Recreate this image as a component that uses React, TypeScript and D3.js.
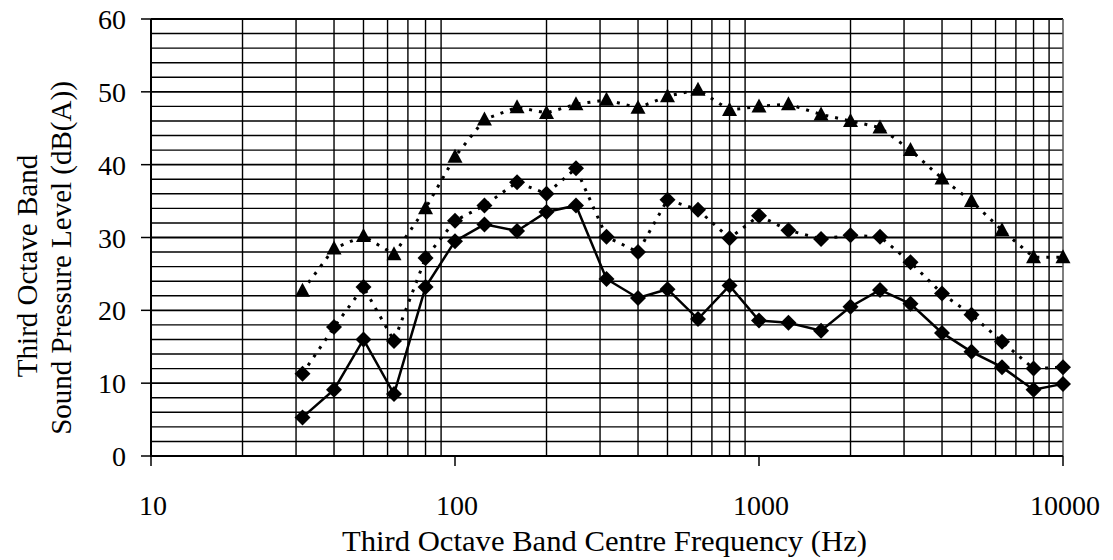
import React from "react";
import * as d3 from "d3";

const freqs = [31.5, 40, 50, 63, 80, 100, 125, 160, 200, 250, 315, 400, 500, 630, 800, 1000, 1250, 1600, 2000, 2500, 3150, 4000, 5000, 6300, 8000, 10000];
const upperSeries = [22.7, 28.5, 30.2, 27.7, 34.0, 41.1, 46.2, 47.9, 47.1, 48.3, 48.9, 47.8, 49.4, 50.3, 47.5, 48.0, 48.3, 46.9, 46.0, 45.1, 42.0, 38.1, 35.0, 31.0, 27.3, 27.3];
const middleSeries = [11.3, 17.7, 23.2, 15.8, 27.2, 32.3, 34.4, 37.6, 36.0, 39.5, 30.1, 28.0, 35.2, 33.8, 29.9, 33.0, 31.0, 29.8, 30.3, 30.1, 26.6, 22.3, 19.4, 15.7, 12.0, 12.2];
const lowerSeries = [5.3, 9.1, 16.0, 8.5, 23.2, 29.5, 31.8, 30.9, 33.5, 34.4, 24.3, 21.7, 22.9, 18.8, 23.4, 18.6, 18.3, 17.2, 20.5, 22.8, 20.9, 16.9, 14.3, 12.2, 9.1, 9.9];
const xTickLabels = [10, 100, 1000, 10000];
const yTickLabels = [0, 10, 20, 30, 40, 50, 60];

const W = 1113;
const H = 560;
const L = 151;
const R = 1063;
const T = 19;
const B = 456;

export default function App() {
  const x = d3.scaleLog().domain([10, 10000]).range([L, R]);
  const y = d3.scaleLinear().domain([0, 60]).range([B, T]);

  const minorX: number[] = [];
  for (let dec = 10; dec < 10000; dec *= 10) {
    for (let m = 2; m <= 9; m++) minorX.push(dec * m);
  }
  const hLines = d3.range(2, 60, 2);

  const line = d3
    .line<number>()
    .x((_, i) => x(freqs[i]))
    .y((v) => y(v));

  const font = "'Liberation Serif', 'Times New Roman', serif";
  const tri = (cx: number, cy: number) =>
    `M${cx},${cy - 8} L${cx + 7.5},${cy + 6} L${cx - 7.5},${cy + 6} Z`;
  const dia = (cx: number, cy: number) =>
    `M${cx},${cy - 8} L${cx + 8},${cy} L${cx},${cy + 8} L${cx - 8},${cy} Z`;

  return (
    <svg width={W} height={H} style={{ display: "block", position: "absolute", left: 0, top: 0 }}>
      <rect x={0} y={0} width={W} height={H} fill="#fff" />
      {hLines.map((v) => (
        <line key={"h" + v} x1={L} x2={R} y1={y(v)} y2={y(v)} stroke="#000" strokeWidth={v % 10 === 0 ? 1.8 : 1.4} />
      ))}
      {minorX.map((f) => (
        <line key={"v" + f} x1={x(f)} x2={x(f)} y1={T} y2={B} stroke="#000" strokeWidth={f === 100 || f === 1000 ? 1.8 : 1.4} />
      ))}
      <line x1={L} x2={R} y1={T} y2={T} stroke="#000" strokeWidth={2} />
      <line x1={R} x2={R} y1={T} y2={B} stroke="#555" strokeWidth={1.5} />
      <line x1={L} x2={L} y1={T} y2={B + 1} stroke="#000" strokeWidth={2} />
      <line x1={L - 1} x2={R} y1={B} y2={B} stroke="#000" strokeWidth={2} />
      {yTickLabels.map((v) => (
        <g key={"yt" + v}>
          <line x1={L - 10} x2={L} y1={y(v)} y2={y(v)} stroke="#000" strokeWidth={1.5} />
          <text x={126} y={y(v) + 10} textAnchor="end" fontFamily={font} fontSize={28} fill="#000">
            {v}
          </text>
        </g>
      ))}
      {xTickLabels.map((v) => (
        <g key={"xt" + v}>
          <line x1={x(v)} x2={x(v)} y1={B} y2={B + 10} stroke="#000" strokeWidth={1.5} />
          <text x={x(v) + 2} y={515} textAnchor="middle" fontFamily={font} fontSize={28} fill="#000">
            {v}
          </text>
        </g>
      ))}
      <text x={342} y={551} textAnchor="start" fontFamily={font} fontSize={29} textLength={525} lengthAdjust="spacingAndGlyphs" fill="#000">
        Third Octave Band Centre Frequency (Hz)
      </text>
      <text transform={`translate(37,266) rotate(-90)`} textAnchor="middle" fontFamily={font} fontSize={29} fill="#000">
        Third Octave Band
      </text>
      <text transform={`translate(71,258) rotate(-90)`} textAnchor="middle" fontFamily={font} fontSize={29} fill="#000">
        Sound Pressure Level (dB(A))
      </text>
      <path d={line(upperSeries) || ""} fill="none" stroke="#000" strokeWidth={3} strokeDasharray="3 7" />
      <path d={line(middleSeries) || ""} fill="none" stroke="#000" strokeWidth={3} strokeDasharray="3 7" />
      <path d={line(lowerSeries) || ""} fill="none" stroke="#000" strokeWidth={2.5} />
      {upperSeries.map((v, i) => (
        <path key={"u" + i} d={tri(x(freqs[i]), y(v))} fill="#000" />
      ))}
      {middleSeries.map((v, i) => (
        <path key={"m" + i} d={dia(x(freqs[i]), y(v))} fill="#000" />
      ))}
      {lowerSeries.map((v, i) => (
        <path key={"l" + i} d={dia(x(freqs[i]), y(v))} fill="#000" />
      ))}
    </svg>
  );
}
